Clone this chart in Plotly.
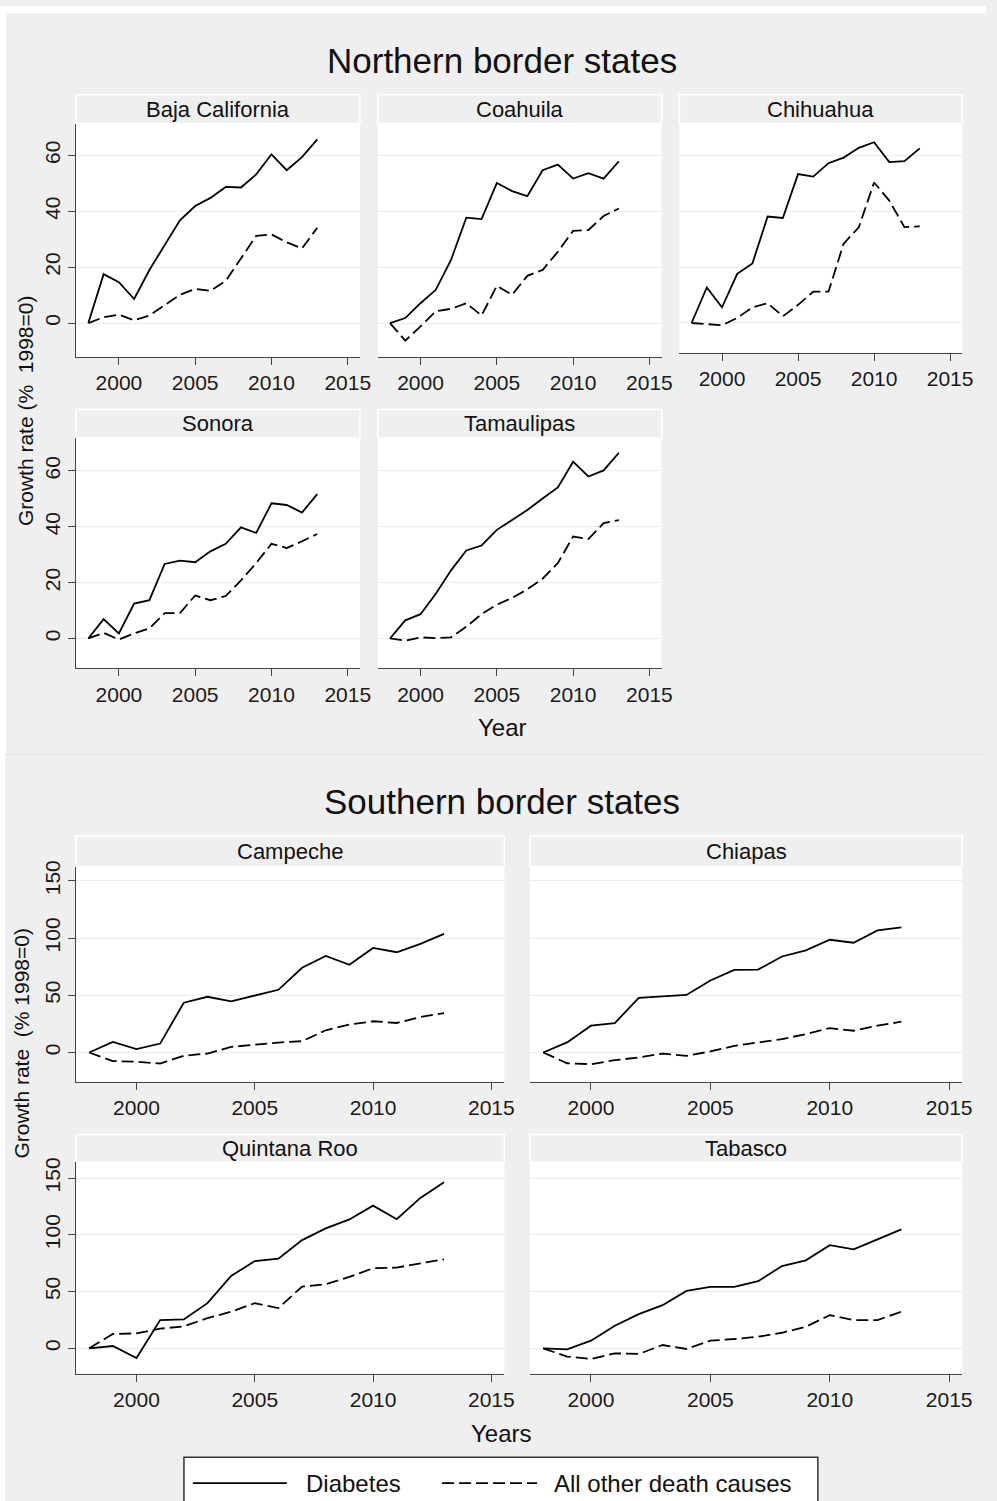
import plotly.graph_objects as go

W, H = 997, 1501

years = list(range(1998, 2014))

# Growth rate relative to 1998 (%), diabetes vs. all other causes of death
baja_diabetes = [0, 17.5, 14.6, 8.6, 19.0, 28.0, 36.8, 41.9, 44.8, 48.7, 48.5, 53.2, 60.4, 54.7, 59.4, 65.7]
baja_other = [0, 2.1, 3.0, 1.0, 2.7, 6.5, 10.1, 12.2, 11.5, 15.1, 23.2, 31.2, 31.7, 28.9, 26.7, 34.1]

coahuila_diabetes = [0, 1.8, 7.1, 11.9, 22.6, 37.7, 37.2, 50.1, 47.2, 45.4, 54.7, 56.7, 51.7, 53.6, 51.7, 57.9]
coahuila_other = [0, -6.3, -1.2, 4.2, 5.1, 7.1, 2.7, 13.3, 10.1, 16.9, 19.0, 25.5, 33.0, 33.3, 38.3, 41.0]

chihuahua_diabetes = [0, 12.7, 5.6, 17.6, 21.3, 38.1, 37.6, 53.3, 52.4, 57.2, 59.2, 62.7, 64.7, 57.6, 57.9, 62.5]
chihuahua_other = [0, -0.4, -0.8, 1.8, 5.6, 7.1, 2.4, 6.5, 11.2, 11.2, 28.4, 34.3, 50.3, 43.8, 34.3, 34.6]

sonora_diabetes = [0, 6.9, 1.8, 12.5, 13.7, 26.7, 27.9, 27.3, 31.2, 33.9, 39.8, 37.8, 48.4, 47.8, 45.1, 51.7]
sonora_other = [0, 2.0, -0.4, 1.8, 3.6, 9.1, 9.1, 15.4, 13.7, 15.2, 20.8, 27.0, 33.9, 32.4, 34.8, 37.4]

tamaulipas_diabetes = [0, 6.5, 8.7, 16.0, 24.4, 31.5, 33.3, 38.9, 42.4, 46.0, 50.1, 54.1, 63.3, 58.0, 60.2, 66.5]
tamaulipas_other = [0, -0.8, 0.4, 0.1, 0.4, 4.2, 8.7, 12.1, 14.5, 17.6, 21.4, 27.0, 36.5, 35.6, 41.3, 42.4]

campeche_diabetes = [0, 9.3, 2.9, 7.8, 43.5, 48.7, 44.7, 49.9, 54.8, 74.0, 84.4, 76.6, 91.4, 87.6, 94.9, 103.6]
campeche_other = [0, -7.5, -8.1, -9.6, -2.9, -0.9, 4.9, 7.0, 8.7, 9.9, 19.4, 24.4, 27.3, 25.8, 31.0, 34.5]

chiapas_diabetes = [0, 8.8, 23.4, 25.7, 47.7, 48.8, 50.3, 62.9, 72.2, 72.5, 83.9, 89.2, 98.5, 95.9, 106.7, 109.4]
chiapas_other = [0, -9.4, -10.2, -6.7, -4.4, -0.9, -2.9, 0.9, 5.8, 8.8, 11.7, 16.1, 21.3, 19.0, 23.4, 26.9]

quintana_diabetes = [0, 2.0, -8.5, 24.9, 25.4, 39.8, 63.7, 76.9, 78.9, 95.3, 105.6, 113.5, 125.7, 113.7, 132.5, 146.2]
quintana_other = [0, 12.6, 13.2, 17.3, 19.3, 26.6, 32.2, 39.8, 35.4, 54.4, 56.4, 62.9, 70.5, 71.1, 74.9, 78.4]

tabasco_diabetes = [0, -0.9, 6.7, 19.9, 30.1, 38.0, 50.6, 54.1, 54.1, 59.1, 72.5, 77.5, 90.9, 87.1, 95.9, 104.7]
tabasco_other = [0, -7.3, -9.4, -4.4, -5.0, 2.9, -0.6, 6.7, 8.2, 10.2, 13.7, 19.0, 29.2, 24.9, 24.9, 32.2]

x_ticks = [2000, 2005, 2010, 2015]
north_y_ticks = [0, 20, 40, 60]
south_y_ticks = [0, 50, 100, 150]

FONT = "Liberation Sans, Arial, sans-serif"
BG = "#efefef"
AXIS = "#444444"
GRID = "#ececec"
DASH = "12px,5px"
LW = 1.8

# (title, diabetes, other, [left, right, strip_top, plot_top, plot_bottom] px,
#  x range, y range, y ticks, first column)
panels = [
    ("Baja California", baja_diabetes, baja_other, [77, 364, 89, 118, 352],
     [1997.2, 2015.8], [-12.0, 71.4], north_y_ticks, True),
    ("Coahuila", coahuila_diabetes, coahuila_other, [382, 669, 89, 118, 352],
     [1997.2, 2015.8], [-12.0, 71.4], north_y_ticks, False),
    ("Chihuahua", chihuahua_diabetes, chihuahua_other, [687, 973, 89, 118, 348],
     [1997.2, 2015.8], [-10.6, 71.4], north_y_ticks, False),
    ("Sonora", sonora_diabetes, sonora_other, [77, 364, 405, 434, 665],
     [1997.2, 2015.8], [-10.7, 71.7], north_y_ticks, True),
    ("Tamaulipas", tamaulipas_diabetes, tamaulipas_other, [382, 669, 405, 434, 665],
     [1997.2, 2015.8], [-10.7, 71.7], north_y_ticks, False),
    ("Campeche", campeche_diabetes, campeche_other, [77, 510, 833, 864, 1080],
     [1997.45, 2015.55], [-25.5, 162.5], south_y_ticks, True),
    ("Chiapas", chiapas_diabetes, chiapas_other, [536, 973, 833, 864, 1080],
     [1997.45, 2015.55], [-25.5, 162.5], south_y_ticks, False),
    ("Quintana Roo", quintana_diabetes, quintana_other, [77, 510, 1133, 1161, 1373],
     [1997.45, 2015.55], [-22.2, 163.8], south_y_ticks, True),
    ("Tabasco", tabasco_diabetes, tabasco_other, [536, 973, 1133, 1161, 1373],
     [1997.45, 2015.55], [-22.2, 163.8], south_y_ticks, False),
]


def px_x(v):
    return v / W


def px_y(v):
    return 1 - v / H


fig = go.Figure()
shapes = []
annotations = []
layout_axes = {}

for i, (name, diab, other, box, xr, yr, yt, first_col) in enumerate(panels, start=1):
    left, right, s_top, p_top, p_bot = box
    xa = "x" if i == 1 else f"x{i}"
    ya = "y" if i == 1 else f"y{i}"
    fig.add_trace(go.Scatter(x=years, y=diab, mode="lines", xaxis=xa, yaxis=ya,
                             line=dict(color="black", width=LW),
                             name="Diabetes", showlegend=False))
    fig.add_trace(go.Scatter(x=years, y=other, mode="lines", xaxis=xa, yaxis=ya,
                             line=dict(color="black", width=LW, dash=DASH),
                             name="All other death causes", showlegend=False))
    xkey = "xaxis" if i == 1 else f"xaxis{i}"
    ykey = "yaxis" if i == 1 else f"yaxis{i}"
    layout_axes[xkey] = dict(
        domain=[px_x(left), px_x(right)], range=xr, anchor=ya,
        tickvals=x_ticks, ticks="outside", ticklen=7, tickwidth=1.2, tickcolor=AXIS,
        showline=True, linecolor=AXIS, linewidth=1.3, showgrid=False, zeroline=False,
        tickfont=dict(family=FONT, size=21, color="#1a1a1a"), fixedrange=True,
    )
    layout_axes[ykey] = dict(
        domain=[px_y(p_bot), px_y(p_top)], range=yr, anchor=xa,
        tickvals=yt, showgrid=True, gridcolor=GRID, gridwidth=1, zeroline=False,
        showline=first_col, linecolor=AXIS, linewidth=1.3,
        ticks="outside" if first_col else "", ticklen=7, tickwidth=1.2, tickcolor=AXIS,
        showticklabels=first_col, tickangle=-90,
        tickfont=dict(family=FONT, size=21, color="#1a1a1a"), fixedrange=True,
    )
    # panel header strip
    shapes.append(dict(type="rect", xref="paper", yref="paper", layer="below",
                       x0=px_x(left), x1=px_x(right), y0=px_y(p_top), y1=px_y(s_top),
                       fillcolor=BG, line=dict(color="white", width=1.5)))
    annotations.append(dict(text=name, xref="paper", yref="paper", showarrow=False,
                            x=px_x((left + right) / 2), y=px_y((s_top + p_top) / 2),
                            xanchor="center", yanchor="middle",
                            font=dict(family=FONT, size=22, color="#111111")))

# outer white margin and the seam between the two graph blocks
shapes += [
    dict(type="rect", xref="paper", yref="paper", layer="below",
         x0=0, x1=1, y0=px_y(7), y1=1, fillcolor="white", line=dict(width=0)),
    dict(type="rect", xref="paper", yref="paper", layer="below",
         x0=0, x1=px_x(6), y0=px_y(751), y1=1, fillcolor="white", line=dict(width=0)),
    dict(type="rect", xref="paper", yref="paper", layer="below",
         x0=0, x1=px_x(5), y0=0, y1=px_y(751), fillcolor="white", line=dict(width=0)),
    dict(type="line", xref="paper", yref="paper", layer="below",
         x0=px_x(5), x1=1, y0=px_y(751.5), y1=px_y(751.5),
         line=dict(color="#e3e3e3", width=1)),
]

# section titles and axis titles
annotations += [
    dict(text="Northern border states", x=px_x(508), y=px_y(55)),
    dict(text="Southern border states", x=px_x(508), y=px_y(799)),
]
for a in annotations[-2:]:
    a.update(xref="paper", yref="paper", showarrow=False, xanchor="center",
             yanchor="middle", font=dict(family=FONT, size=35, color="#111111"))

for txt, xx, yy in [("Year", 508, 724), ("Years", 507, 1433)]:
    annotations.append(dict(text=txt, x=px_x(xx), y=px_y(yy), xref="paper", yref="paper",
                            showarrow=False, xanchor="center", yanchor="middle",
                            font=dict(family=FONT, size=24, color="#111111")))

for txt, xx, yy in [("Growth rate (%&nbsp; 1998=0)", 26, 406),
                    ("Growth rate&nbsp; (% 1998=0)", 22, 1041)]:
    annotations.append(dict(text=txt, x=px_x(xx), y=px_y(yy), xref="paper", yref="paper",
                            showarrow=False, xanchor="center", yanchor="middle",
                            textangle=-90,
                            font=dict(family=FONT, size=21, color="#111111")))

# legend box, open at the bottom edge of the figure
legend_y = 1483
box_l, box_r, box_t = 186, 827, 1457
shapes += [
    dict(type="rect", xref="paper", yref="paper", layer="above",
         x0=px_x(box_l), x1=px_x(box_r), y0=0, y1=px_y(box_t),
         fillcolor="white", line=dict(width=0)),
    dict(type="path", xref="paper", yref="paper", layer="above",
         path=(f"M {px_x(box_l)},0 L {px_x(box_l)},{px_y(box_t)} "
               f"L {px_x(box_r)},{px_y(box_t)} L {px_x(box_r)},0"),
         line=dict(color="#333333", width=1.5)),
    dict(type="line", xref="paper", yref="paper", layer="above",
         x0=px_x(195), x1=px_x(290), y0=px_y(legend_y), y1=px_y(legend_y),
         line=dict(color="black", width=LW)),
    dict(type="line", xref="paper", yref="paper", layer="above",
         x0=px_x(447), x1=px_x(543), y0=px_y(legend_y), y1=px_y(legend_y),
         line=dict(color="black", width=LW, dash=DASH)),
]
for txt, xx in [("Diabetes", 307), ("All other death causes", 558)]:
    annotations.append(dict(text=txt, x=px_x(xx), y=px_y(legend_y), xref="paper",
                            yref="paper", showarrow=False, xanchor="left",
                            yanchor="middle",
                            font=dict(family=FONT, size=24, color="#111111")))

fig.update_layout(
    width=W, height=H, autosize=False,
    margin=dict(l=0, r=0, t=0, b=0),
    paper_bgcolor=BG, plot_bgcolor="white",
    showlegend=False, shapes=shapes, annotations=annotations,
    font=dict(family=FONT),
    **layout_axes,
)

fig.write_html("out.html")
